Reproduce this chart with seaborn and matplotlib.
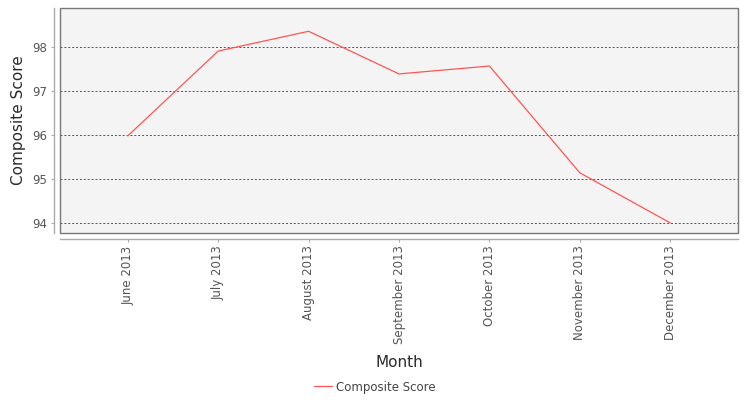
import matplotlib
matplotlib.use("Agg")
import matplotlib.pyplot as plt
import seaborn as sns
import pandas as pd
from matplotlib.patches import Rectangle

months = ["June 2013", "July 2013", "August 2013", "September 2013",
          "October 2013", "November 2013", "December 2013"]
scores = [95.98, 97.91, 98.36, 97.39, 97.57, 95.14, 94.0]
series_name = "Composite Score"

df = pd.DataFrame({"Month": months, "Composite Score": scores, "series": series_name})

sns.set_theme(style="white")
plt.rcParams['font.family'] = ['DejaVu Sans']

fig = plt.figure(figsize=(7.5, 4), dpi=100)
ax = fig.add_axes([60/750, 1-233/400, 678/750, 225/400])
ax.set_facecolor("#F4F4F4")

sns.lineplot(data=df, x="Month", y="Composite Score", hue="series",
             palette=["#FF5555"], linewidth=0.9, ax=ax, sort=False)

ax.set_xlim(-0.75, 6.75)
ax.set_ylim(93.77, 98.89)
ax.set_yticks([94, 95, 96, 97, 98])
ax.yaxis.grid(True, linestyle=(0, (2, 2)), color="#555555", linewidth=0.7)
ax.xaxis.grid(False)

for s in ["top", "right"]:
    ax.spines[s].set_visible(False)
for s in ["left", "bottom"]:
    ax.spines[s].set_position(("outward", 4))
    ax.spines[s].set_color("#AAAAAA")
    ax.spines[s].set_linewidth(1)
ax.add_patch(Rectangle((0, 0), 1, 1, transform=ax.transAxes, fill=False,
                       edgecolor="#777777", linewidth=1, clip_on=False, zorder=5))

ax.tick_params(axis="x", labelrotation=90, length=2, width=0.8, color="#AAAAAA",
               labelsize=8.5, labelcolor="#555555", pad=3, bottom=True)
ax.tick_params(axis="y", length=2, width=0.8, color="#AAAAAA",
               labelsize=8.5, labelcolor="#555555", pad=3, left=True)

ax.set_xlabel("Month", fontsize=11, color="#2A2A2A", fontweight="normal", labelpad=8)
ax.set_ylabel("Composite Score", fontsize=11, color="#2A2A2A", fontweight="normal", labelpad=5)

leg = ax.legend(loc="center", bbox_to_anchor=(0.5, 1-387/400), bbox_transform=fig.transFigure,
                frameon=False, fontsize=8.5, handlelength=1.5, handletextpad=0.4)
for t in leg.get_texts():
    t.set_color("#444444")

fig.savefig("out.png", dpi=100)
